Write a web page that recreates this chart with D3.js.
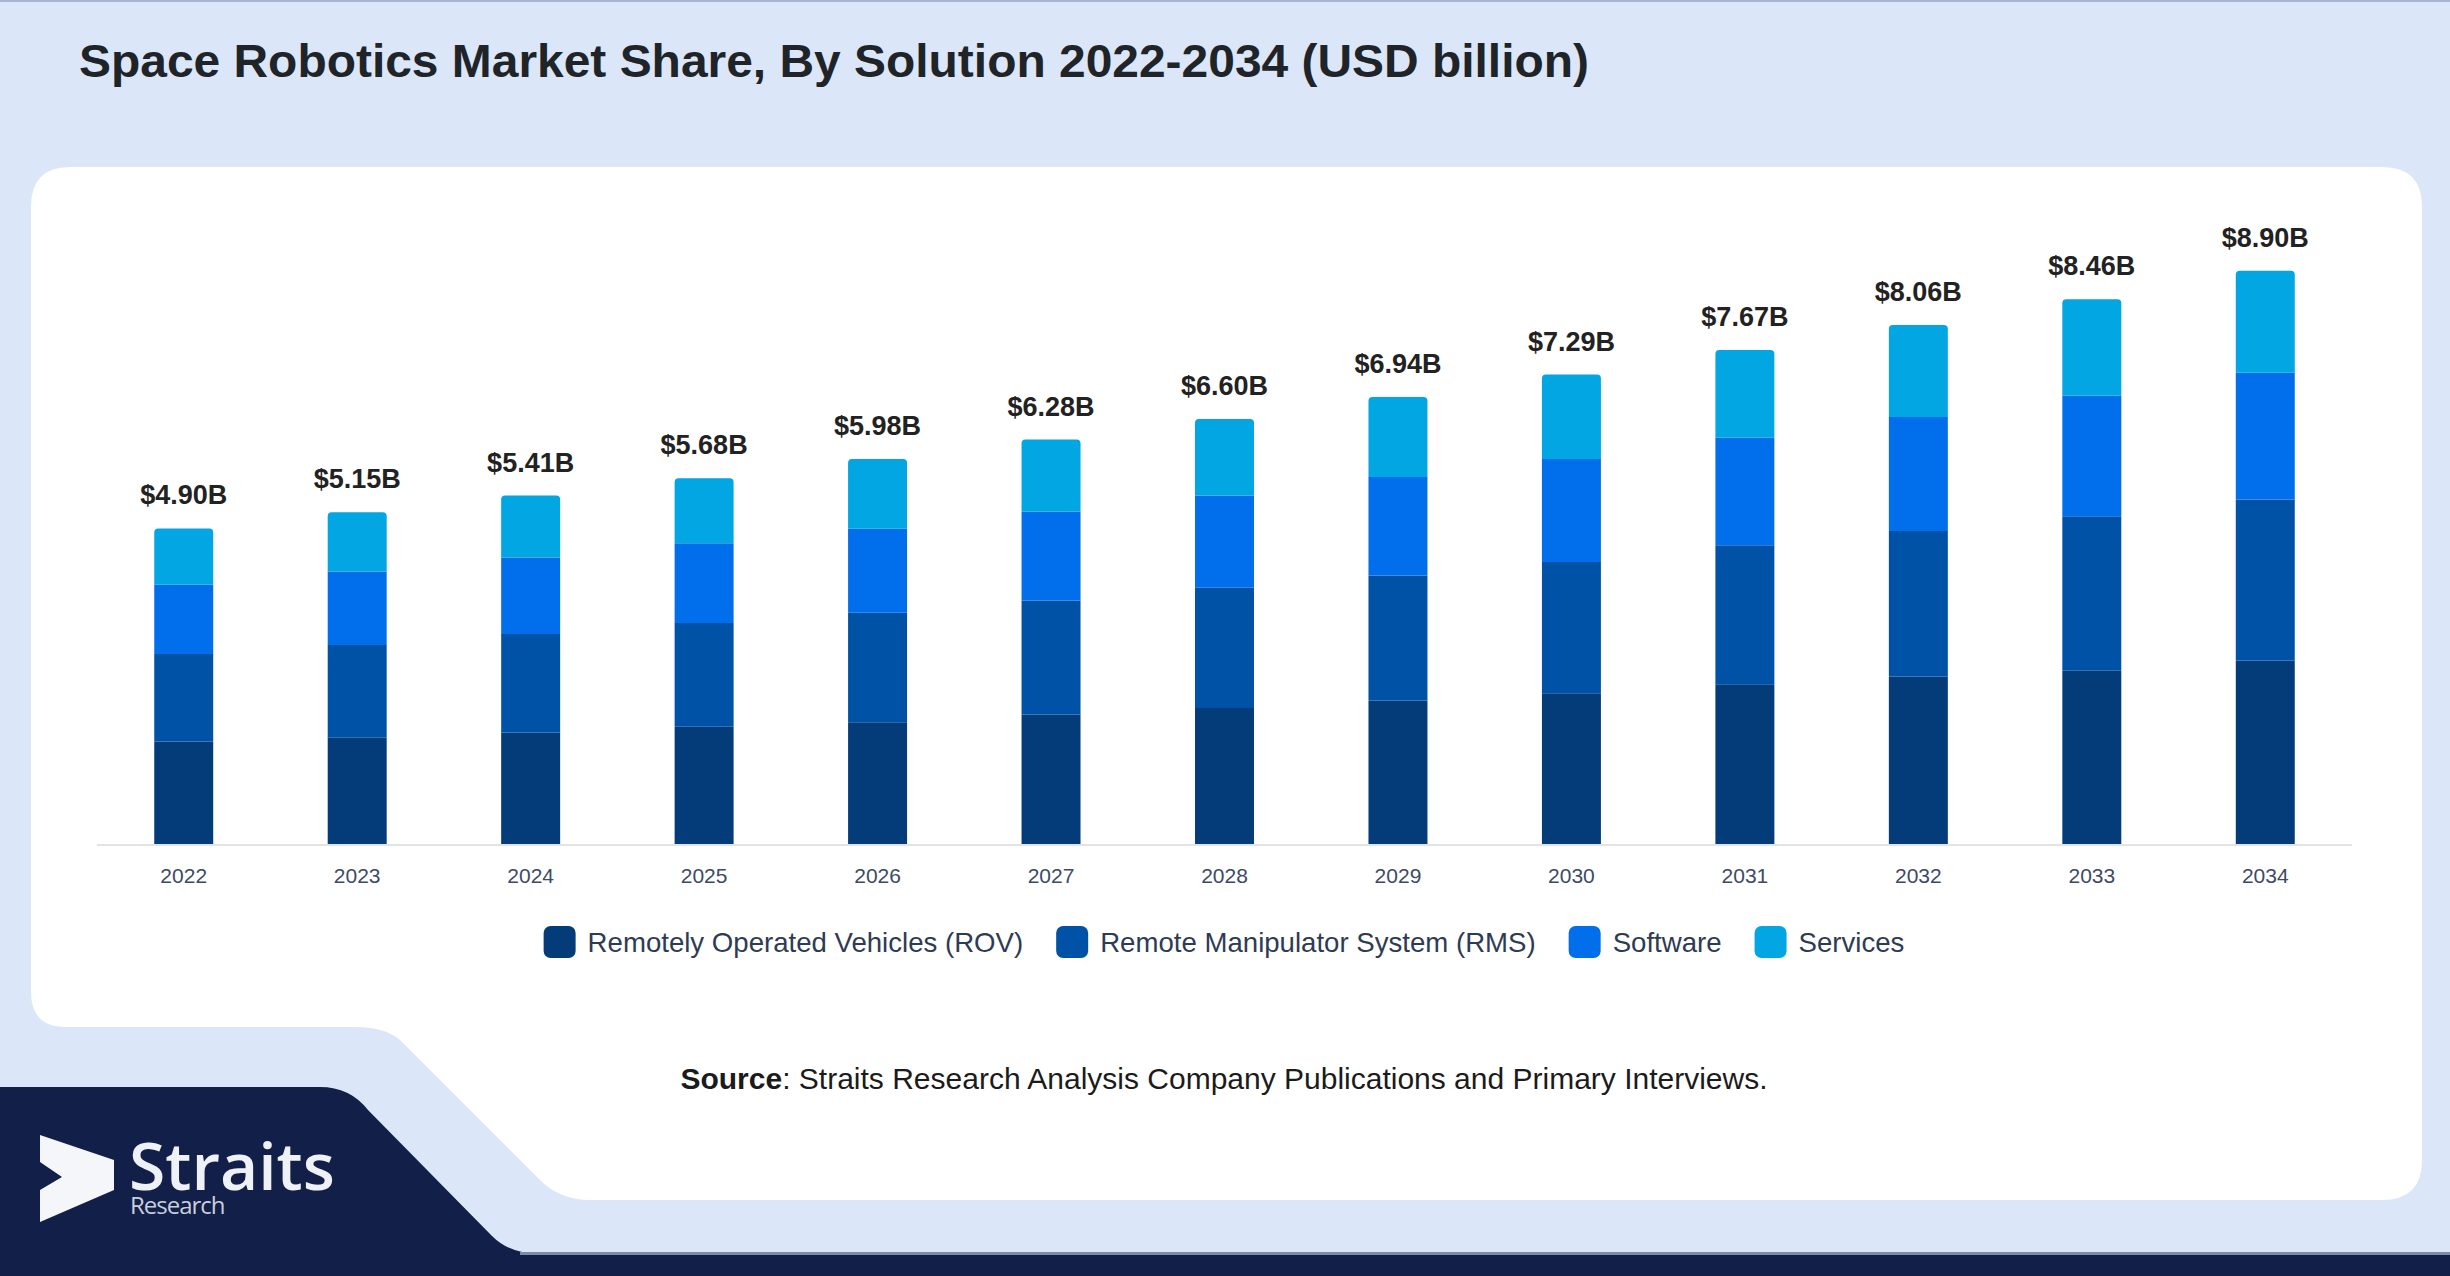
<!DOCTYPE html>
<html>
<head>
<meta charset="utf-8">
<script src="https://cdn.jsdelivr.net/npm/d3@7"></script>
<style>
  body { margin: 0; background: #dbe7f8; }
  svg { display: block; font-family: "Liberation Sans", Arial, sans-serif; }
</style>
</head>
<body>
<svg id="chart" width="2450" height="1276"></svg>
<script>
"use strict";

// values, USD billion
var years = ["2022", "2023", "2024", "2025", "2026", "2027", "2028", "2029", "2030", "2031", "2032", "2033", "2034"];
var rov      = [1.59, 1.65, 1.73, 1.82, 1.89, 2.01, 2.11, 2.23, 2.34, 2.48, 2.60, 2.69, 2.85];
var rms      = [1.36, 1.44, 1.53, 1.61, 1.70, 1.77, 1.87, 1.94, 2.04, 2.16, 2.26, 2.40, 2.50];
var software = [1.08, 1.14, 1.19, 1.24, 1.31, 1.38, 1.43, 1.53, 1.60, 1.67, 1.77, 1.87, 1.97];
var services = [0.87, 0.92, 0.96, 1.01, 1.08, 1.12, 1.19, 1.24, 1.31, 1.36, 1.43, 1.50, 1.58];
var totals   = [4.90, 5.15, 5.41, 5.68, 5.98, 6.28, 6.60, 6.94, 7.29, 7.67, 8.06, 8.46, 8.90];

var seriesNames = ["Remotely Operated Vehicles (ROV)", "Remote Manipulator System (RMS)", "Software", "Services"];
var seriesKeys = ["rov", "rms", "software", "services"];
var colors = ["#033c79", "#0052a6", "#016eeb", "#02a6e2"];

var svg = d3.select("#chart");

// background pieces
svg.append("rect").attr("width", 2450).attr("height", 1276).attr("fill", "#dbe7f8");
svg.append("rect").attr("width", 2450).attr("height", 2).attr("fill", "#a6b4d4");

// navy footer with slanted corner
svg.append("path")
  .attr("d", "M0,1087 L320,1087 Q350,1087 368,1110 L492,1236 Q510,1254 540,1254 L2450,1254 L2450,1276 L0,1276 Z")
  .attr("fill", "#121f48");
svg.append("rect").attr("x", 520).attr("y", 1252).attr("width", 1930).attr("height", 3).attr("fill", "#7d8bab");

// white card with notch bottom left
svg.append("path")
  .attr("d", "M70,167 L2382,167 Q2422,167 2422,207 L2422,1160 Q2422,1200 2382,1200 L590,1200 Q560,1200 540,1180 L400,1040 Q385,1027 355,1027 L66,1027 Q31,1027 31,992 L31,207 Q31,167 70,167 Z")
  .attr("fill", "#ffffff");

// title
svg.append("text")
  .attr("x", 79).attr("y", 77)
  .attr("font-size", 46).attr("font-weight", "bold")
  .attr("fill", "#1f2429")
  .attr("textLength", 1510).attr("lengthAdjust", "spacingAndGlyphs")
  .text("Space Robotics Market Share, By Solution 2022-2034 (USD billion)");

// scales
var x = d3.scaleBand().domain(years).range([97, 2352]).paddingInner(0.66).paddingOuter(0.33);
var y = d3.scaleLinear().domain([0, 10]).range([844, 200]);
var color = d3.scaleOrdinal().domain(seriesKeys).range(colors);

var table = years.map(function (yr, i) {
  return { year: yr, rov: rov[i], rms: rms[i], software: software[i], services: services[i], total: totals[i] };
});
var stacked = d3.stack().keys(seriesKeys)(table);

// baseline
svg.append("line")
  .attr("x1", 97).attr("x2", 2352)
  .attr("y1", y(0) + 1).attr("y2", y(0) + 1)
  .attr("stroke", "#e3e3e3").attr("stroke-width", 2);

function topRounded(x0, y0, w, h, r) {
  return "M" + x0 + "," + (y0 + h) +
    " L" + x0 + "," + (y0 + r) +
    " Q" + x0 + "," + y0 + " " + (x0 + r) + "," + y0 +
    " L" + (x0 + w - r) + "," + y0 +
    " Q" + (x0 + w) + "," + y0 + " " + (x0 + w) + "," + (y0 + r) +
    " L" + (x0 + w) + "," + (y0 + h) + " Z";
}

var layers = svg.append("g").selectAll("g")
  .data(stacked)
  .enter()
  .append("g")
  .attr("fill", function (d) { return color(d.key); });

layers.selectAll("path")
  .data(function (d) { return d.map(function (p) { return { p: p, top: d.key === "services" }; }); })
  .enter()
  .append("path")
  .attr("d", function (d) {
    var x0 = x(d.p.data.year), w = x.bandwidth();
    var y0 = y(d.p[1]), h = y(d.p[0]) - y(d.p[1]);
    return topRounded(x0, y0, w, h, d.top ? 4 : 0);
  });

// value labels
svg.append("g").selectAll("text")
  .data(table)
  .enter()
  .append("text")
  .attr("x", function (d) { return x(d.year) + x.bandwidth() / 2; })
  .attr("y", function (d) { return y(d.total) - 24; })
  .attr("text-anchor", "middle")
  .attr("font-size", 27).attr("font-weight", "bold")
  .attr("fill", "#222222")
  .text(function (d) { return "$" + d.total.toFixed(2) + "B"; });

// x axis
var xAxis = svg.append("g")
  .attr("transform", "translate(0," + (y(0) + 1) + ")")
  .call(d3.axisBottom(x).tickSize(0).tickPadding(23));
xAxis.select(".domain").remove();
xAxis.selectAll("text")
  .attr("font-size", 21)
  .attr("font-family", "'Liberation Sans', Arial, sans-serif")
  .attr("fill", "#3d4a65");

// legend
var legend = svg.append("g").attr("class", "legend");
var items = legend.selectAll("g")
  .data(seriesKeys)
  .enter()
  .append("g");
items.append("rect")
  .attr("width", 32).attr("height", 32)
  .attr("rx", 7).attr("y", -16)
  .attr("fill", function (d) { return color(d); });
items.append("text")
  .attr("x", 44).attr("y", 10)
  .attr("font-size", 27.6)
  .attr("fill", "#2e3b55")
  .text(function (d, i) { return seriesNames[i]; });

var offsets = [], pos = 0;
items.each(function () {
  offsets.push(pos);
  pos += 44 + d3.select(this).select("text").node().getComputedTextLength() + 33;
});
var legendWidth = pos - 33;
var legendX = 1224 - legendWidth / 2;
items.attr("transform", function (d, i) { return "translate(" + (legendX + offsets[i]) + ",942)"; });

// source line
var src = svg.append("text")
  .attr("x", 1224).attr("y", 1089)
  .attr("text-anchor", "middle")
  .attr("font-size", 30)
  .attr("fill", "#1b1b1b");
src.append("tspan").attr("font-weight", "bold").text("Source");
src.append("tspan").text(": Straits Research Analysis Company Publications and Primary Interviews.");

// logo
svg.append("path")
  .attr("d", "M40,1135 L114,1160 L114,1190 L40,1222 L40,1190 L62,1177 L40,1162 Z")
  .attr("fill", "#f4f6fa");
var logo = svg.append("text")
  .attr("font-family", "'Open Sans', sans-serif");
logo.append("tspan")
  .attr("x", 129).attr("y", 1190)
  .attr("font-size", 66).attr("font-weight", 600)
  .attr("fill", "#eef1f6")
  .text("Straits");
logo.append("tspan")
  .attr("x", 130).attr("y", 1214)
  .attr("font-size", 24).attr("letter-spacing", -1)
  .attr("fill", "#c8cedb")
  .text("Research");
</script>
</body>
</html>
